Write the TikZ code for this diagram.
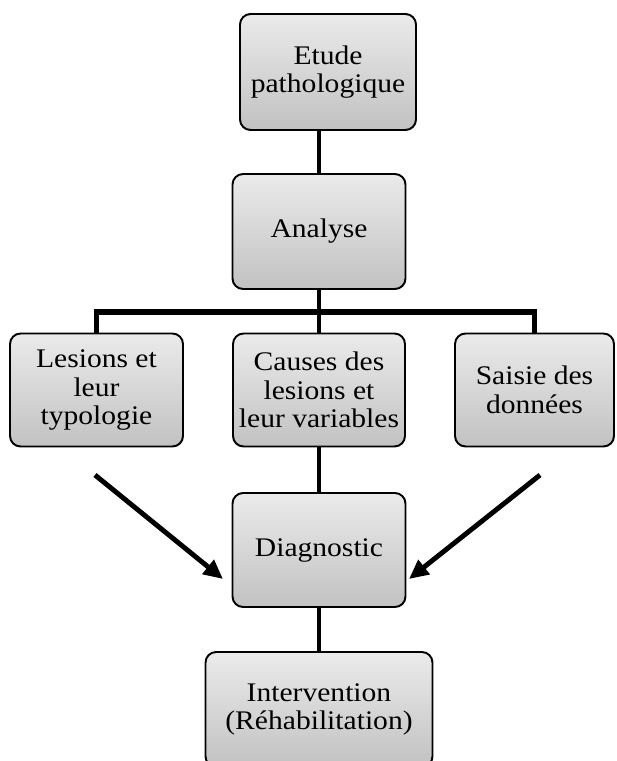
\documentclass[tikz,border=0pt]{standalone}
\usepackage{fontspec}
\setmainfont[FakeStretch=1.1]{Liberation Serif}
\usepackage{tikz}
\usetikzlibrary{arrows.meta,calc}

\tikzset{
	etape/.style={draw=black, line width=1.1pt, rounded corners=6pt, top color=gray!16, bottom color=gray!48,
		align=center, inner sep=0pt, font=\fontsize{15.3}{16.2}\selectfont},
	lien/.style={line width=2.8pt},
	fleche/.style={line width=2.8pt, -{Triangle[length=11pt,width=10pt]}}
}

\begin{document}
\begin{tikzpicture}[x=0.02cm,y=-0.02cm]
	\useasboundingbox (0,0) rectangle (616,761);
	\node[etape, minimum width=3.52cm, minimum height=2.32cm] (etude) at (328,72) {Etude\\pathologique};
	\node[etape, minimum width=3.46cm, minimum height=2.3cm] (analyse) at (319,231.5) {Analyse};
	\node[etape, minimum width=3.46cm, minimum height=2.26cm] (lesions) at (96.5,390) {Lesions et\\leur\\typologie};
	\node[etape, minimum width=3.44cm, minimum height=2.26cm] (causes) at (319,390) {Causes des\\lesions et\\leur variables};
	\node[etape, minimum width=3.18cm, minimum height=2.26cm] (saisie) at (534.5,390) {Saisie des\\données};
	\node[etape, minimum width=3.46cm, minimum height=2.28cm] (diag) at (319,550) {Diagnostic};
	\node[etape, minimum width=4.54cm, minimum height=2.3cm] (interv) at (319,709.5) {Intervention\\(Réhabilitation)};
	
	\coordinate (bus) at (319,312);
	\draw[lien] (etude.south -| analyse) -- (analyse.north);
	\draw[lien] (analyse.south) -- (bus);
	\draw[line width=3.4pt] (lesions.north) |- (bus) -| (saisie.north);
	\draw[lien] (bus) -- (causes.north);
	\draw[lien] (causes.south) -- (diag.north);
	\draw[lien] (diag.south) -- (interv.north);
	
	\coordinate (gauche) at (95,475);
	\coordinate (droite) at (540,475);
	\coordinate (ciblegauche) at (223,579);
	\coordinate (cibledroite) at (409,579);
	\draw[fleche] (gauche) -- (ciblegauche);
	\draw[fleche] (droite) -- (cibledroite);
\end{tikzpicture}
\end{document}
